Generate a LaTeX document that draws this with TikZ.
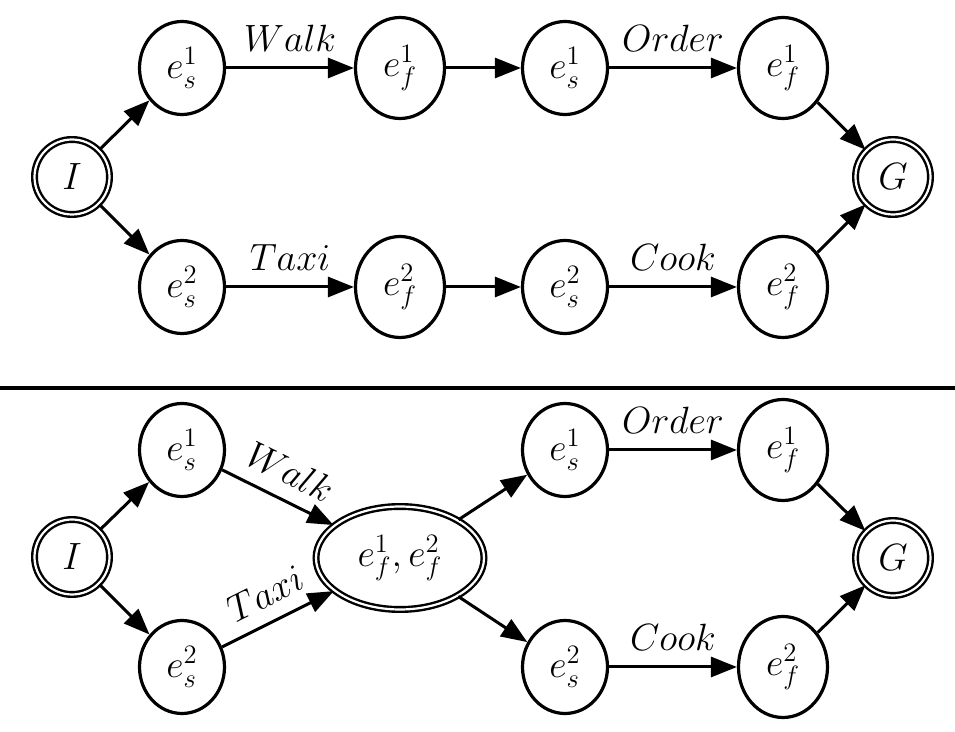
\documentclass[tikz,border=0pt]{standalone}
\usepackage{fix-cm}
\usetikzlibrary{shapes.geometric,arrows.meta}
\begin{document}
\begin{tikzpicture}[x=0.5pt,y=-0.5pt,
  every node/.style={font=\fontsize{19}{23}\selectfont},
  st/.style={ellipse,draw,line width=1.6pt,minimum width=42.5pt,minimum height=46.5pt,inner sep=0pt},
  fn/.style={ellipse,draw,line width=1.6pt,minimum width=44.5pt,minimum height=50.5pt,inner sep=0pt},
  term/.style={circle,draw,line width=1.2pt,double,double distance=1.1pt,minimum size=37.5pt,inner sep=0pt},
  big/.style={ellipse,draw,line width=1.2pt,double,double distance=1.1pt,minimum width=84pt,minimum height=51.5pt,inner sep=0pt},
  ar/.style={-{Triangle[length=13pt,width=10pt]},line width=1.5pt},
  lab/.style={midway,anchor=south,inner sep=0pt,yshift=7.5pt},
  slab/.style={midway,anchor=south,inner sep=0pt,sloped,yshift=7pt}]
\useasboundingbox (0,0) rectangle (955,732);
% ---------- top ----------
\node[term] (I1) at (72,177) {$I$};
\node[st] (a1) at (182,68) {$e_s^1$};
\node[fn] (a2) at (400,68) {$e_f^1$};
\node[st] (a3) at (565,68) {$e_s^1$};
\node[fn] (a4) at (783,68) {$e_f^1$};
\node[st] (b1) at (182,287) {$e_s^2$};
\node[fn] (b2) at (400,287) {$e_f^2$};
\node[st] (b3) at (565,287) {$e_s^2$};
\node[fn] (b4) at (783,287) {$e_f^2$};
\node[term] (G1) at (893,177) {$G$};
\draw[ar] (I1) -- (a1);
\draw[ar] (I1) -- (b1);
\draw[ar] (a1) -- node[lab] {$Walk$} (a2);
\draw[ar] (a2) -- (a3);
\draw[ar] (a3) -- node[lab] {$Order$} (a4);
\draw[ar] (a4) -- (G1);
\draw[ar] (b1) -- node[lab] {$Taxi$} (b2);
\draw[ar] (b2) -- (b3);
\draw[ar] (b3) -- node[lab] {$Cook$} (b4);
\draw[ar] (b4) -- (G1);
% ---------- separator ----------
\coordinate (sl) at (0,388);
\coordinate (sr) at (955,388);
\draw[line width=1.7pt] (sl) -- (sr);
% ---------- bottom ----------
\node[term] (I2) at (72,557) {$I$};
\node[st] (c1) at (182,450) {$e_s^1$};
\node[st] (d1) at (182,667) {$e_s^2$};
\node[big] (m) at (400,558) {$e_f^1,e_f^2$};
\node[st] (c3) at (565,450) {$e_s^1$};
\node[fn] (c4) at (783,450) {$e_f^1$};
\node[st] (d3) at (565,667) {$e_s^2$};
\node[fn] (d4) at (783,667) {$e_f^2$};
\node[term] (G2) at (893,558) {$G$};
\draw[ar] (I2) -- (c1);
\draw[ar] (I2) -- (d1);
\draw[ar] (c1) -- node[slab] {$Walk$} (m);
\draw[ar] (d1) -- node[slab] {$Taxi$} (m);
\draw[ar] (m) -- (c3);
\draw[ar] (m) -- (d3);
\draw[ar] (c3) -- node[lab] {$Order$} (c4);
\draw[ar] (d3) -- node[lab] {$Cook$} (d4);
\draw[ar] (c4) -- (G2);
\draw[ar] (d4) -- (G2);
\end{tikzpicture}
\end{document}
